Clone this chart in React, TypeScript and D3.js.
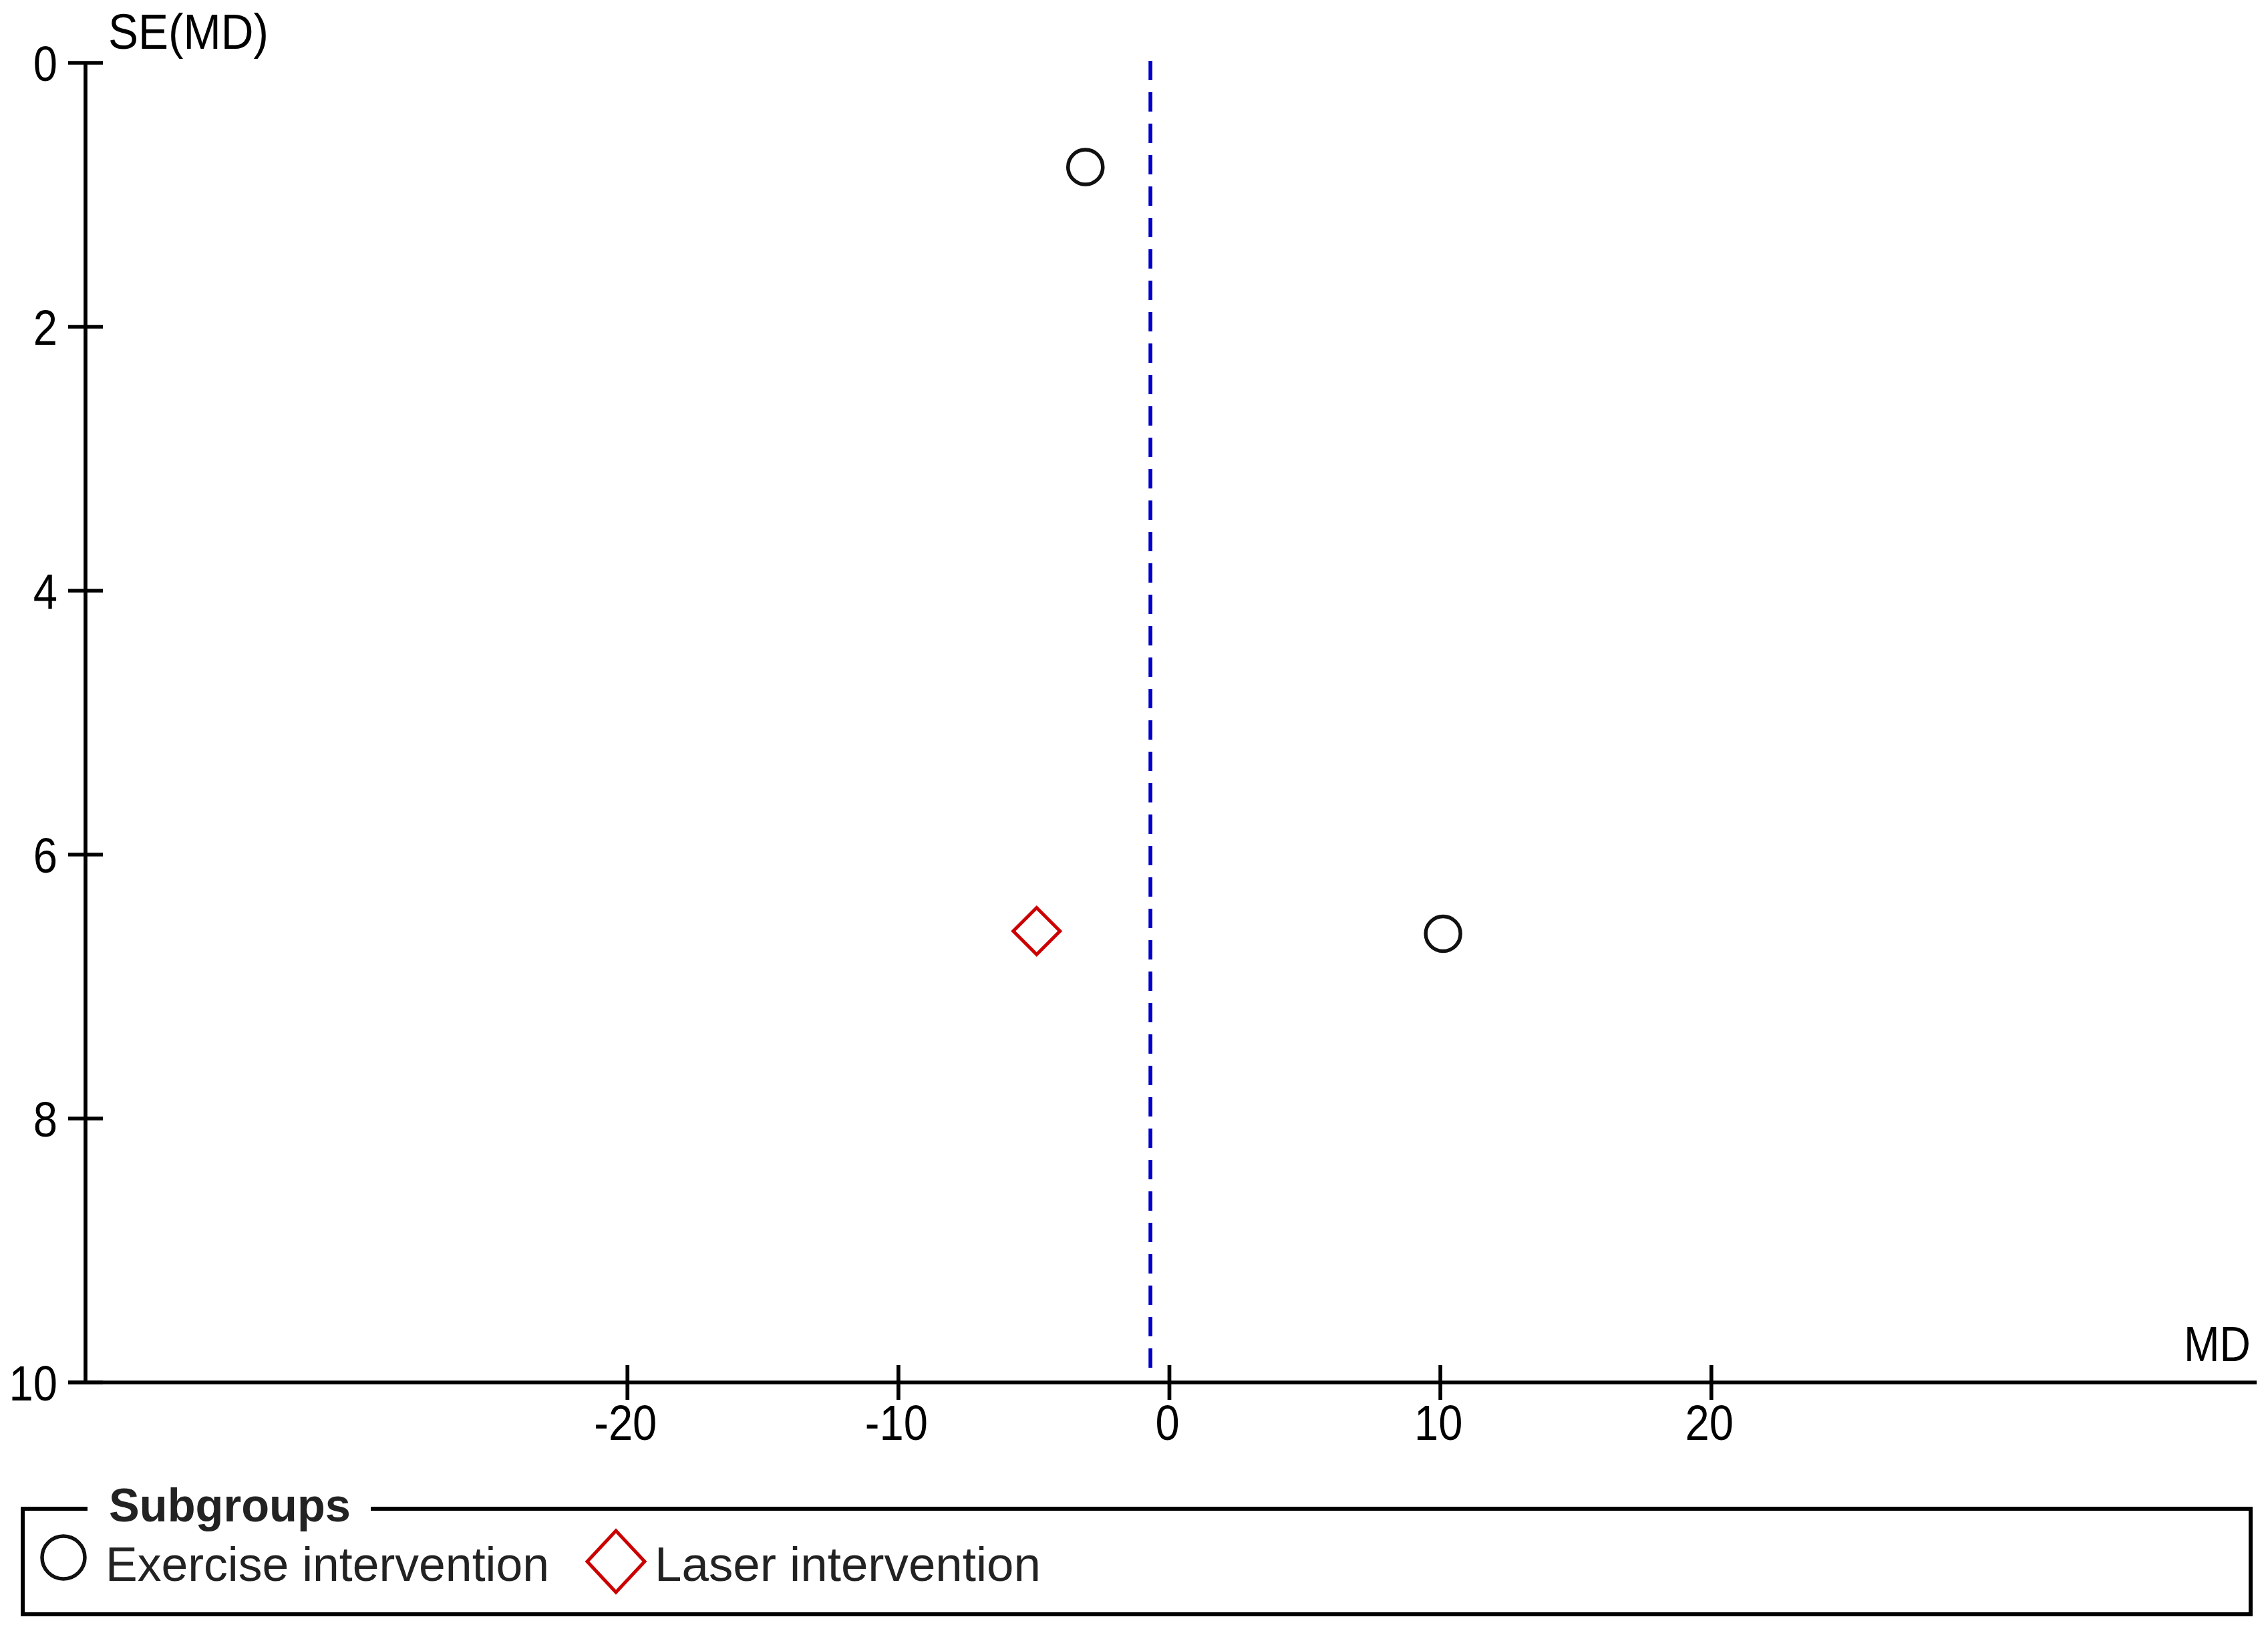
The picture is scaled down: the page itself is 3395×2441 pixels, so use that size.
import React from "react";
import * as d3 from "d3";

// ---- Data ----
const exerciseMD = [-3.1, 10.1];
const exerciseSE = [0.79, 6.6];
const laserMD = [-4.9];
const laserSE = [6.58];
const pooledMD = -0.7;
const xTicks = [-20, -10, 0, 10, 20];
const yTicks = [0, 2, 4, 6, 8, 10];
const xLabel = "MD";
const yLabel = "SE(MD)";
const legendTitle = "Subgroups";
const groupNames = ["Exercise intervention", "Laser intervention"];

const W = 3395;
const H = 2441;
const FONT = "'Liberation Sans', Arial, sans-serif";

export default function App() {
  const x = d3.scaleLinear().domain([-40, 40]).range([128, 3373]);
  const y = d3.scaleLinear().domain([0, 10]).range([94, 2069]);
  const sw = 5.7;
  const tickHalf = 26;
  const cond = 0.88;
  const diamond = (cx: number, cy: number, hw: number, hh: number) =>
    `M${cx},${cy - hh}L${cx + hw},${cy}L${cx},${cy + hh}L${cx - hw},${cy}Z`;

  const x0 = x.range()[0];
  const x1 = x.range()[1];
  const yTop = y(0);
  const yBot = y(10);

  return (
    <svg
      width={W}
      height={H}
      style={{ position: "absolute", left: 0, top: 0, background: "#fff" }}
      fontFamily={FONT}
    >
      <rect x={0} y={0} width={W} height={H} fill="#fff" />
      {/* pooled line */}
      <line
        x1={x(pooledMD)}
        x2={x(pooledMD)}
        y1={91}
        y2={2048}
        stroke="#0000C8"
        strokeWidth={sw}
        strokeDasharray="29 18"
      />
      {/* Y axis */}
      <line x1={x0} x2={x0} y1={yTop} y2={yBot} stroke="#000" strokeWidth={sw} />
      {yTicks.map((t) => (
        <g key={"y" + t}>
          <line
            x1={x0 - tickHalf}
            x2={x0 + tickHalf}
            y1={y(t)}
            y2={y(t)}
            stroke="#000"
            strokeWidth={sw}
          />
          <g transform={`translate(86,${y(t) + 26.5}) scale(${cond},1)`}>
            <text x={0} y={0} fontSize={74} textAnchor="end" fill="#000">
              {t}
            </text>
          </g>
        </g>
      ))}
      {/* X axis */}
      <line
        x1={x0 - tickHalf}
        x2={x1 + 5}
        y1={yBot}
        y2={yBot}
        stroke="#000"
        strokeWidth={sw}
      />
      {xTicks.map((t) => (
        <g key={"x" + t}>
          <line
            x1={x(t)}
            x2={x(t)}
            y1={yBot - tickHalf}
            y2={yBot + tickHalf}
            stroke="#000"
            strokeWidth={sw}
          />
          <g transform={`translate(${x(t) - 3},2155) scale(${cond},1)`}>
            <text x={0} y={0} fontSize={74} textAnchor="middle" fill="#000">
              {t}
            </text>
          </g>
        </g>
      ))}
      <text x={162} y={73} fontSize={74} fill="#000" textLength={240} lengthAdjust="spacingAndGlyphs">
        {yLabel}
      </text>
      <text x={3269} y={2037} fontSize={74} fill="#000" textLength={100} lengthAdjust="spacingAndGlyphs">
        {xLabel}
      </text>

      {/* points */}
      {exerciseMD.map((m, i) => (
        <circle
          key={"e" + i}
          cx={x(m)}
          cy={y(exerciseSE[i])}
          r={26}
          fill="none"
          stroke="#111"
          strokeWidth={5.5}
        />
      ))}
      {laserMD.map((m, i) => (
        <path
          key={"l" + i}
          d={diamond(x(m), y(laserSE[i]), 35, 35)}
          fill="none"
          stroke="#CC0000"
          strokeWidth={5}
        />
      ))}

      {/* legend */}
      <path
        d={`M131,2258 L34,2258 L34,2416 L3369,2416 L3369,2258 L555,2258`}
        fill="none"
        stroke="#000"
        strokeWidth={6}
      />
      <text x={163} y={2277} fontSize={70} fontWeight="bold" fill="#222" textLength={362} lengthAdjust="spacingAndGlyphs">
        {legendTitle}
      </text>
      <circle cx={95} cy={2331} r={32} fill="none" stroke="#111" strokeWidth={5.5} />
      <text x={158} y={2366} fontSize={72} fill="#222" textLength={664} lengthAdjust="spacingAndGlyphs">
        {groupNames[0]}
      </text>
      <path d={diamond(922, 2337, 43, 46)} fill="none" stroke="#CC0000" strokeWidth={5} />
      <text x={980} y={2366} fontSize={72} fill="#222" textLength={578} lengthAdjust="spacingAndGlyphs">
        {groupNames[1]}
      </text>
    </svg>
  );
}
